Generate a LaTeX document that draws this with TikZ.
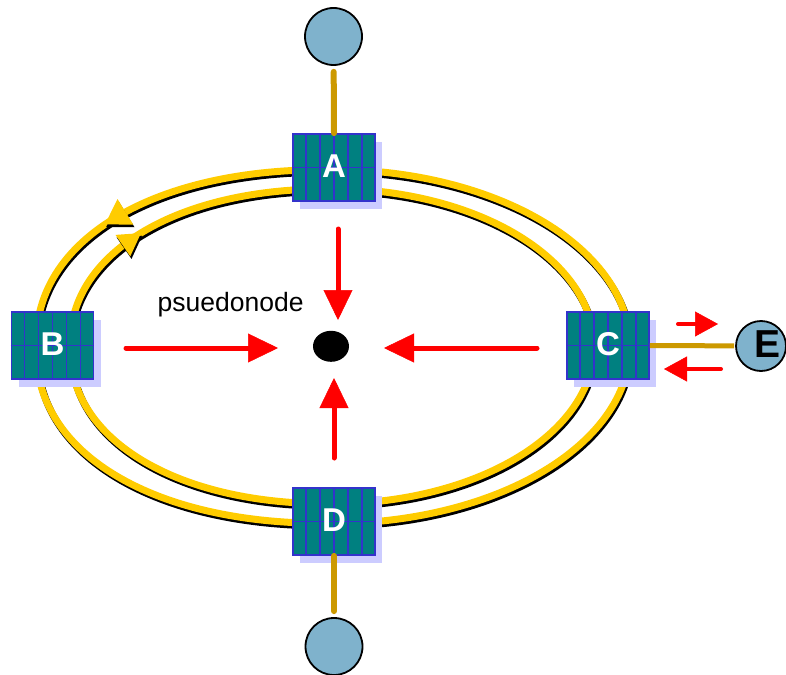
\documentclass[tikz,border=0pt]{standalone}
\usepackage{fontspec}
\setmainfont{Liberation Sans}
\usetikzlibrary{arrows.meta,calc,shapes.geometric}
\definecolor{ringyel}{RGB}{255,204,0}
\definecolor{stemgold}{RGB}{204,153,0}
\definecolor{boxteal}{RGB}{0,128,128}
\definecolor{gridblue}{RGB}{51,51,204}
\definecolor{shadowlav}{RGB}{204,204,255}
\definecolor{nodeblue}{RGB}{127,178,204}
\newcommand{\stationdraw}[4]{%
  \fill[shadowlav] (#2-34,#3-25.5) rectangle (#2+48,#3+41.5);
  \node[stationbox] (#1) at (#2,#3) {};
  \foreach \k in {1,...,5}
    \draw[gridline] ($(#1.north west)!\k/6!(#1.north east)$) -- ($(#1.south west)!\k/6!(#1.south east)$);
  \draw[gridline] (#1.west) -- (#1.east);
  \node[letter] (#1lab) at (#2,#3-1) {#4};
}
\begin{document}
\begin{tikzpicture}[x=1pt,y=-1pt,
  stationbox/.style={draw=gridblue,line width=1.8pt,fill=boxteal,minimum width=82pt,minimum height=67pt,inner sep=0pt},
  gridline/.style={gridblue,line width=1.6pt},
  letter/.style={text=white,font=\fontsize{33}{36}\selectfont\bfseries,inner sep=0pt},
  endnode/.style={circle,draw=black,line width=1.8pt,fill=nodeblue,minimum size=57pt,inner sep=0pt},
  stem/.style={stemgold,line width=6pt,line cap=round},
  redarrow/.style={red,line width=5pt,line cap=round,-{Triangle[length=30pt,width=29pt,line width=0.5pt]}},
  smallarrow/.style={red,line width=4pt,line cap=round,-{Triangle[length=23pt,width=25pt,line width=0.5pt]}},
]
\useasboundingbox (0,0) rectangle (786,674);
\fill[white] (0,0) rectangle (786,674);

% dual ring
\foreach \col/\dx/\dy in {black/1.2/2.6,ringyel/0/0}{
  \draw[\col,line width=7pt,line join=round,shift={(\dx,\dy)}]
    plot[domain=90:270,samples=120] ({332+296*cos(\x)*pow(max(abs(cos(\x)),0.001),-0.0909)},{346.5-177*sin(\x)*pow(max(abs(sin(\x)),0.001),-0.0909)})
    -- plot[domain=-90:90,samples=120] ({332+298*cos(\x)},{346.5-177*sin(\x)}) -- cycle;
  \draw[\col,line width=7pt,line join=round,shift={(\dx,\dy)}]
    plot[domain=90:270,samples=120] ({332+262*cos(\x)*pow(max(abs(cos(\x)),0.001),-0.06977)},{346.3-157.5*sin(\x)*pow(max(abs(sin(\x)),0.001),-0.06977)})
    -- plot[domain=-90:90,samples=120] ({332+262*cos(\x)},{346.3-157.5*sin(\x)}) -- cycle;
}
% ring direction arrowheads (counter-rotating rings)
\fill[black,shift={(1.2,2.6)}] (105,224.4) -- (133.3,224.6) -- (117.5,199.0) -- cycle;
\fill[ringyel] (105,224.4) -- (133.3,224.6) -- (117.5,199.0) -- cycle;
\fill[black,shift={(1.2,2.6)}] (141,233.1) -- (130.3,256.3) -- (115.5,234.9) -- cycle;
\fill[ringyel] (141,233.1) -- (130.3,256.3) -- (115.5,234.9) -- cycle;

% stations
\stationdraw{A}{334}{167.5}{A}
\stationdraw{B}{52.5}{345.5}{B}
\stationdraw{C}{608}{345.5}{C}
\stationdraw{D}{334}{521.5}{D}

% end nodes
\node[endnode] (topc) at (333.5,36.5) {};
\node[endnode] (botc) at (334,646.5) {};
\node[endnode,minimum size=50pt] (E) at (761,346) {};
\node[inner sep=0pt,font=\fontsize{39}{42}\selectfont\bfseries] (Elab) at (767,344) {E};

% stems
\draw[stem,shorten <=6pt] (topc) -- (A.north);
\draw[stem,shorten >=6pt] (D.south) -- (botc);
\draw[stem,line width=5pt,line cap=butt,shorten >=1pt] (C.east) -- (E);

% pseudonode
\node[ellipse,fill=black,minimum width=36pt,minimum height=31pt,inner sep=0pt] (pseudo) at (331,346.3) {};
\node[anchor=base west,inner sep=0pt,font=\fontsize{26.5}{30}\selectfont] (plabel) at (157.5,311.5) {psuedonode};

% red arrows
\coordinate (t1) at (338,229); \coordinate (h1) at (338,320);
\coordinate (t2) at (126,348); \coordinate (h2) at (278,348);
\coordinate (t3) at (537,348); \coordinate (h3) at (384,348);
\coordinate (t4) at (334,458); \coordinate (h4) at (334,378);
\draw[redarrow] (t1) -- (h1);
\draw[redarrow] (t2) -- (h2);
\draw[redarrow] (t3) -- (h3);
\draw[redarrow] (t4) -- (h4);
\coordinate (t5) at (678,324); \coordinate (h5) at (718,324);
\coordinate (t6) at (721,369); \coordinate (h6) at (664,369);
\draw[smallarrow] (t5) -- (h5);
\draw[smallarrow] (t6) -- (h6);
\end{tikzpicture}
\end{document}
